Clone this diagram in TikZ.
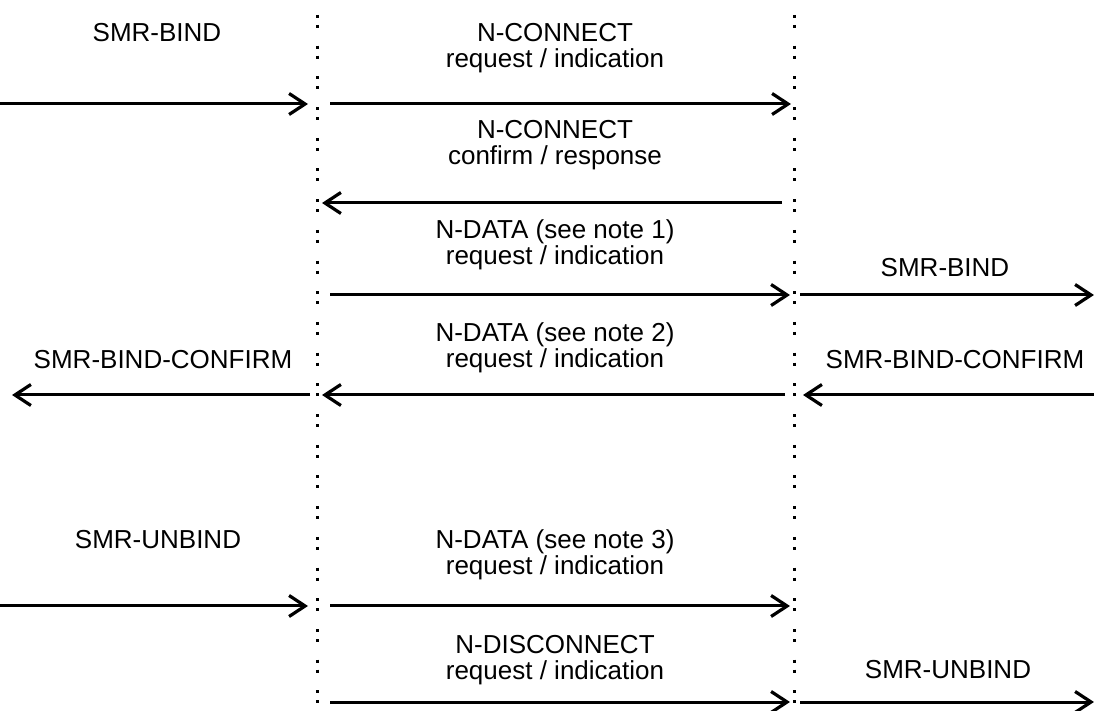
\documentclass[tikz,border=0pt]{standalone}
\usepackage{fontspec}
\setmainfont{Liberation Sans}
\usetikzlibrary{arrows.meta}
\tikzset{
  lbl/.style={align=center, inner sep=0pt, font=\fontsize{13pt}{13pt}\selectfont},
  msg/.style={line width=1.5pt, -{Straight Barb[length=8pt,width=10.5pt,line width=1.6pt]}},
  lifeline/.style={line width=1.5pt, dash pattern=on 1.5pt off 3.5pt on 1.5pt off 8.85pt}
}
\begin{document}
\begin{tikzpicture}[x=0.5pt, y=-0.5pt]
\useasboundingbox (0,0) rectangle (1094,711);
% lifelines
\coordinate (L0) at (317, 15); \coordinate (L1) at (317, 711);
\coordinate (R0) at (794, 15); \coordinate (R1) at (794, 711);
\draw[lifeline] (L0) -- (L1);
\draw[lifeline] (R0) -- (R1);
% labels
\node[lbl] (b1) at (157, 33) {SMR-BIND};
\node[lbl] (m1) at (555, 48) {N-CONNECT\\request / indication};
\node[lbl] (m2) at (555, 145) {N-CONNECT\\confirm / response};
\node[lbl] (m3) at (555, 245) {N-DATA (see note 1)\\request / indication};
\node[lbl] (b3) at (945, 268) {SMR-BIND};
\node[lbl] (m4) at (555, 348) {N-DATA (see note 2)\\request / indication};
\node[lbl] (c4l) at (163, 360) {SMR-BIND-CONFIRM};
\node[lbl] (c4r) at (955, 360) {SMR-BIND-CONFIRM};
\node[lbl] (u5) at (158, 540) {SMR-UNBIND};
\node[lbl] (m5) at (555, 555) {N-DATA (see note 3)\\request / indication};
\node[lbl] (m6) at (555, 660) {N-DISCONNECT\\request / indication};
\node[lbl] (u6) at (948, 670) {SMR-UNBIND};
% arrow ends
\coordinate (a1) at (0, 104);    \coordinate (a2) at (308, 104);
\coordinate (a3) at (330, 104);  \coordinate (a4) at (791, 104);
\coordinate (b1s) at (782, 203); \coordinate (b1e) at (322, 203);
\coordinate (c1) at (330, 295);  \coordinate (c2) at (790, 295);
\coordinate (c3) at (800, 295);  \coordinate (c4) at (1094, 295);
\coordinate (d1) at (785, 395);  \coordinate (d2) at (322, 395);
\coordinate (d3) at (310, 395);  \coordinate (d4) at (12, 395);
\coordinate (d5) at (1094, 395); \coordinate (d6) at (803, 395);
\coordinate (e1) at (0, 606);    \coordinate (e2) at (308, 606);
\coordinate (e3) at (330, 606);  \coordinate (e4) at (790, 606);
\coordinate (f1) at (330, 702);  \coordinate (f2) at (790, 702);
\coordinate (f3) at (800, 702);  \coordinate (f4) at (1094, 702);
% messages
\draw[msg] (a1) -- (a2);
\draw[msg] (a3) -- (a4);
\draw[msg] (b1s) -- (b1e);
\draw[msg] (c1) -- (c2);
\draw[msg] (c3) -- (c4);
\draw[msg] (d1) -- (d2);
\draw[msg] (d3) -- (d4);
\draw[msg] (d5) -- (d6);
\draw[msg] (e1) -- (e2);
\draw[msg] (e3) -- (e4);
\draw[msg] (f1) -- (f2);
\draw[msg] (f3) -- (f4);
\end{tikzpicture}
\end{document}
